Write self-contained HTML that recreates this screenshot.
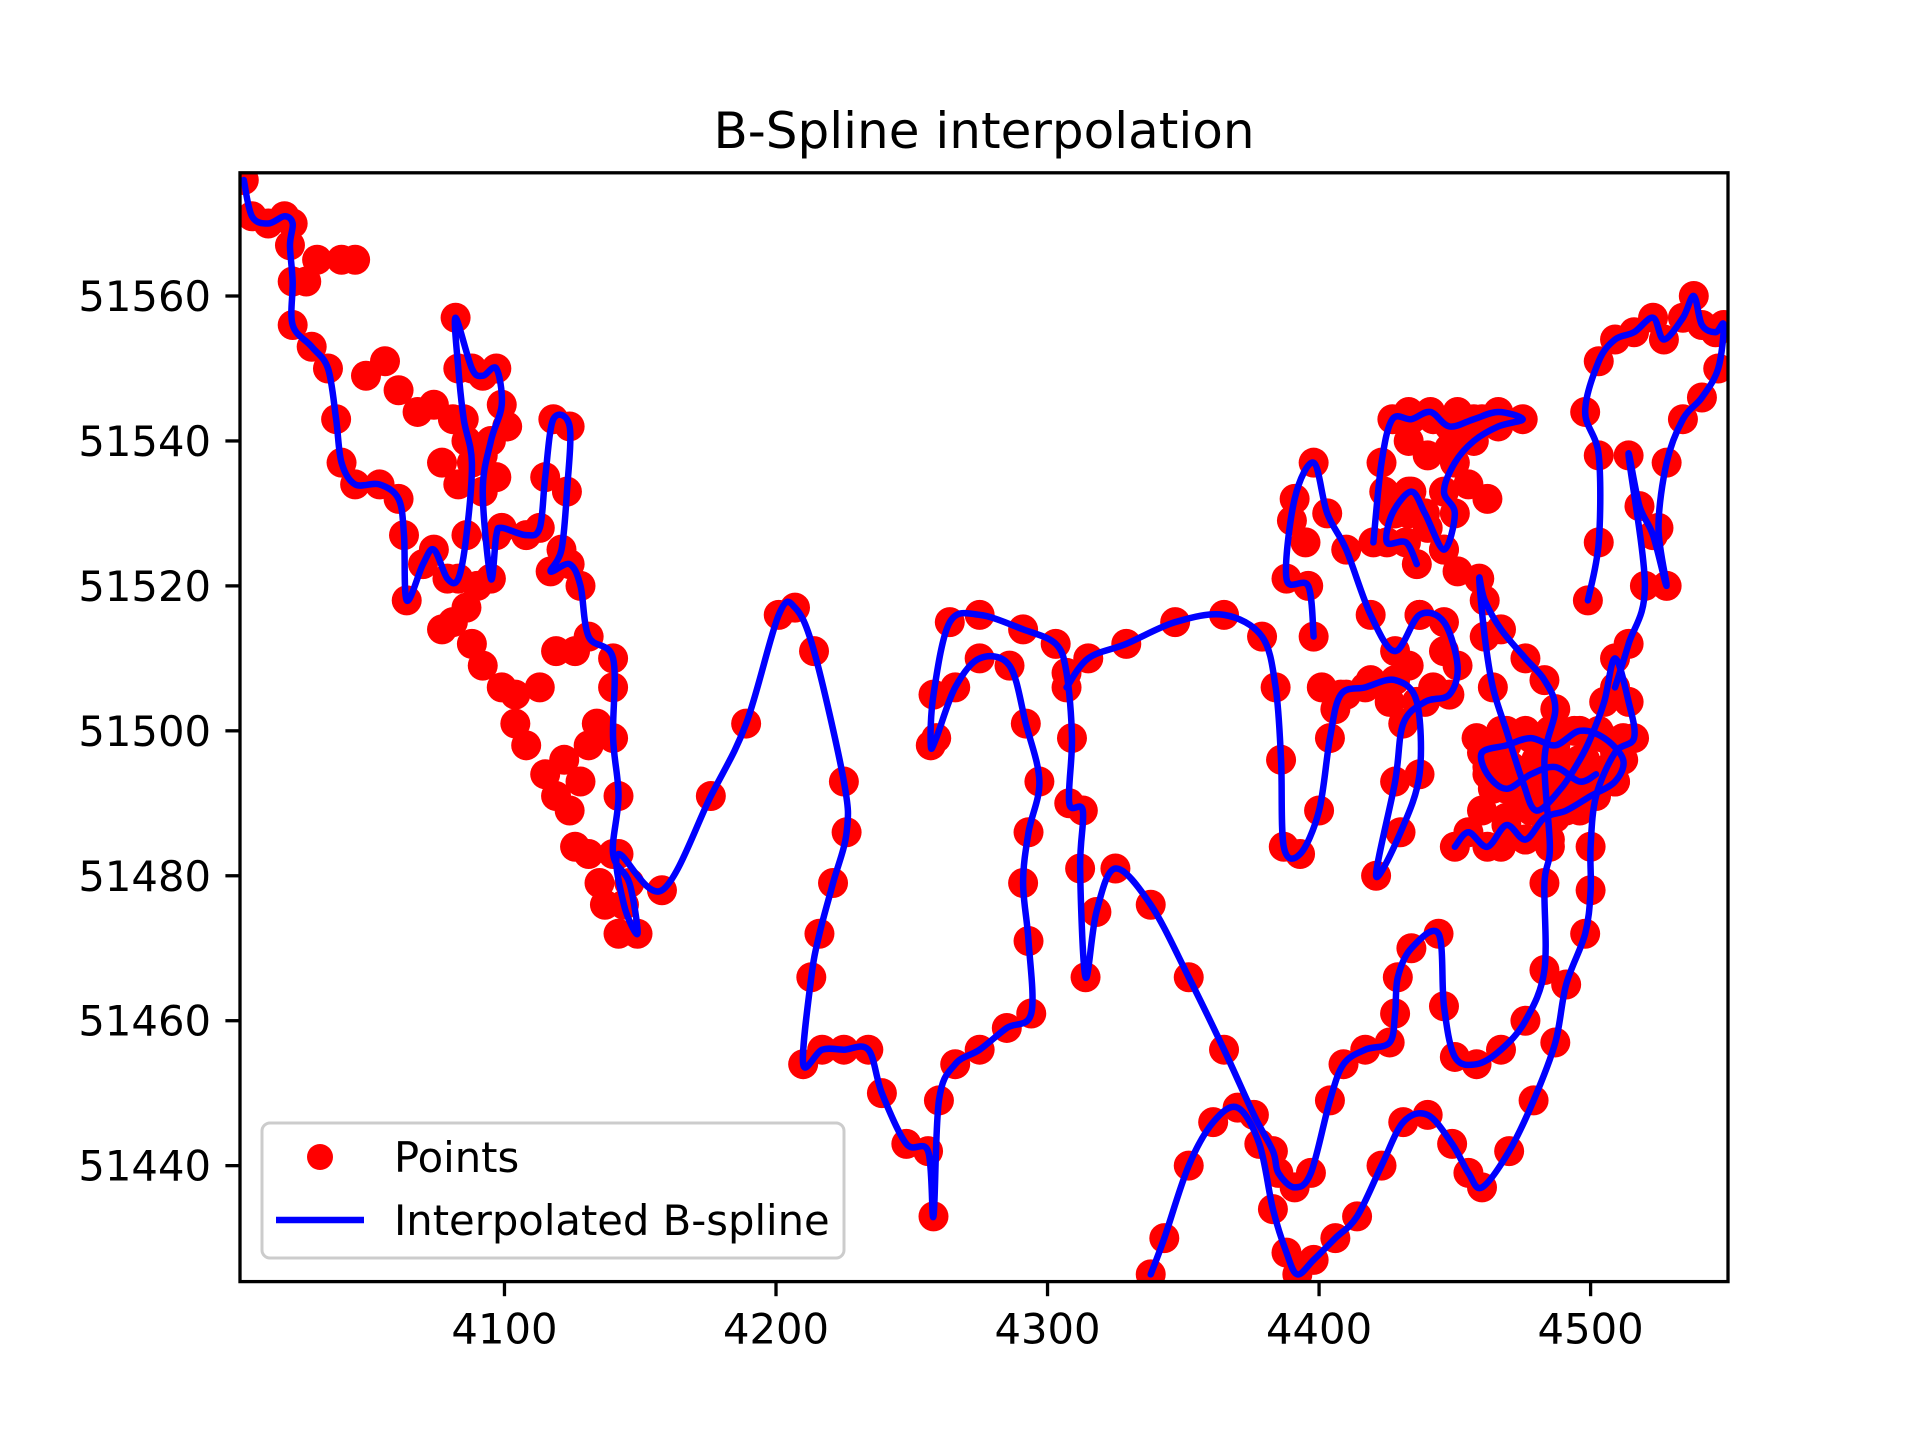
<!DOCTYPE html>
<html><head><meta charset="utf-8">
<style>
html,body{margin:0;padding:0;background:#fff;}
svg{display:block;font-family:"DejaVu Sans","Liberation Sans",sans-serif;}
</style></head>
<body>
<svg id="chart" width="1920" height="1440" viewBox="0 0 1920 1440" xmlns="http://www.w3.org/2000/svg">
<defs><clipPath id="axclip"><rect x="240" y="172.8" width="1488" height="1108.8"/></clipPath></defs>
<rect x="0" y="0" width="1920" height="1440" fill="#fff"/>
<text x="984" y="148" font-size="50" text-anchor="middle">B-Spline interpolation</text>
<g id="marks" clip-path="url(#axclip)"></g>
<g id="axes"></g>
<g id="legend">
  <rect x="262" y="1123" width="582" height="135" rx="8" fill="#fff" fill-opacity="0.8" stroke="#cccccc" stroke-width="3"/>
  <circle cx="320" cy="1157" r="13" fill="#ff0000"/>
  <text x="394" y="1172" font-size="41.7">Points</text>
  <line x1="276" y1="1220" x2="364" y2="1220" stroke="#0000ff" stroke-width="6.5"/>
  <text x="394" y="1235" font-size="41.7">Interpolated B-spline</text>
</g>
</svg>
<script>
const xTicks = [4100, 4200, 4300, 4400, 4500];
const yTicks = [51440, 51460, 51480, 51500, 51520, 51540, 51560];
const seg1X = [4004,4007,4013,4019,4022,4021,4022,4022,4029,4035,4038,4040,4045,4054,4061,4063,4064,4070,4074,4079,4083,4086,4088,4085,4083,4082,4088,4092,4097,4099,4095,4092,4095,4097,4099,4108,4113,4115,4118,4124,4123,4121,4117,4124,4128,4131,4140,4140,4142,4140,4146,4149,4144,4142,4158,4176,4189,4201,4207,4214,4225,4226,4221,4216,4213,4210,4217,4225,4234,4239,4248,4256,4258,4260,4266,4275,4285,4294,4293,4291,4293,4297,4292,4286,4275,4266,4259,4257,4258,4264,4275,4291,4303,4307,4309,4308,4313,4312,4314,4318,4325,4338,4352,4365,4376,4383,4385,4391,4397,4404,4409,4417,4426,4428,4429,4434,4444,4446,4450,4458,4467,4476,4483,4483,4485,4483,4487,4483,4476,4467,4461,4459,4461,4464,4469,4475,4480,4489,4496,4500,4505,4509,4514,4516,4509,4502,4500,4500,4498,4491,4487,4479,4470,4460,4455,4449,4440,4431,4423,4414,4406,4398,4392,4388,4383,4378,4370,4361,4352,4343,4338];
const seg1Y = [51576,51571,51570,51571,51570,51567,51562,51556,51553,51550,51543,51537,51534,51534,51532,51527,51518,51523,51525,51521,51521,51527,51537,51543,51550,51557,51550,51549,51550,51545,51540,51533,51521,51527,51528,51527,51528,51535,51543,51542,51533,51525,51522,51523,51520,51513,51510,51499,51491,51483,51479,51472,51476,51483,51478,51491,51501,51516,51517,51511,51493,51486,51479,51472,51466,51454,51456,51456,51456,51450,51443,51442,51433,51449,51454,51456,51459,51461,51471,51479,51486,51493,51501,51509,51510,51506,51499,51498,51505,51515,51516,51514,51512,51508,51499,51490,51489,51481,51466,51475,51481,51476,51466,51456,51447,51442,51439,51437,51439,51449,51454,51456,51457,51461,51466,51470,51472,51462,51455,51454,51456,51460,51467,51479,51484,51496,51503,51507,51510,51514,51518,51521,51513,51506,51500,51493,51489,51492,51496,51499,51504,51510,51504,51499,51497,51491,51484,51478,51472,51465,51457,51449,51442,51437,51439,51443,51447,51446,51440,51433,51430,51427,51425,51428,51434,51443,51448,51446,51440,51430,51425];
const seg2X = [4307,4315,4329,4347,4365,4379,4384,4386,4387,4393,4400,4404,4408,4417,4428,4436,4437,4430,4421,4428,4431,4439,4448,4451,4446,4437,4428,4419,4410,4403,4398,4391,4388,4396,4398];
const seg2Y = [51506,51510,51512,51515,51516,51513,51506,51496,51484,51483,51489,51499,51505,51506,51507,51504,51494,51486,51480,51493,51501,51504,51505,51509,51515,51516,51511,51516,51525,51530,51537,51532,51521,51520,51513];
const seg3X = [4420,4423,4427,4434,4441,4448,4457,4466,4475,4466,4457,4450,4446,4450,4446,4439,4434,4427,4425,4432,4436];
const seg3Y = [51526,51537,51543,51543,51544,51542,51543,51544,51543,51542,51540,51537,51533,51530,51525,51530,51533,51530,51526,51526,51523];
const seg4X = [4450,4455,4462,4469,4476,4483,4491,4500,4509,4512,4505,4496,4487,4478,4469,4460,4462,4469,4478,4487,4496,4502];
const seg4Y = [51484,51486,51484,51487,51485,51488,51489,51491,51493,51496,51499,51500,51498,51499,51498,51497,51494,51492,51494,51495,51493,51494];
const seg5X = [4499,4503,4503,4498,4503,4509,4516,4523,4527,4534,4538,4541,4546,4549,4547,4541,4534,4528,4525,4528,4523,4518,4514,4520,4514,4509];
const seg5Y = [51518,51526,51538,51544,51551,51554,51555,51557,51554,51557,51560,51556,51555,51556,51550,51546,51543,51537,51528,51520,51527,51531,51538,51520,51512,51506];
const extraX = [4081,4088,4092,4099,4104,4108,4115,4119,4124,4126,4131,4135,4137,4142,4104,4113,4122,4128,4131,4134,4140,4119,4126,4086,4077,4090,
  4458,4467,4476,4485,4494,4503,4512,4462,4471,4480,4489,4498,4507,4464,4473,4482,4491,4500,4509,4460,4469,4478,4487,4496,4467,4476,4485,
  4433,4442,4451,4460,4433,4440,4448,4455,4462,4433,4440,4446,4451,4424,4428,
  4049,4056,4061,4068,4074,4081,4086,4092,4097,4101,4077,4083,4027,4031,4045,4040,
  4390,4395,4401,4410,4419,4426,4433,4442,4406,4437,4446,4433];
const extraY = [51515,51512,51509,51506,51501,51498,51494,51491,51489,51484,51483,51479,51476,51472,51505,51506,51496,51493,51498,51501,51506,51511,51511,51517,51514,51520,
  51499,51500,51500,51500,51500,51500,51499,51495,51495,51496,51495,51496,51495,51492,51491,51492,51491,51492,51493,51489,51488,51489,51488,51489,51484,51485,51485,
  51544,51543,51544,51543,51540,51538,51539,51534,51532,51533,51528,51525,51522,51533,51530,
  51549,51551,51547,51544,51545,51543,51540,51538,51535,51542,51537,51534,51562,51565,51565,51565,
  51529,51526,51506,51505,51507,51504,51509,51506,51503,51516,51511,51530];

const X0 = 240, X1 = 1728, Y0 = 172.8, Y1 = 1281.6;
const xMin = 4002.6, xMax = 4550.6, yMin = 51424, yMax = 51577;
function sx(v){ return X0 + (v - xMin) / (xMax - xMin) * (X1 - X0); }
function sy(v){ return Y1 - (v - yMin) / (yMax - yMin) * (Y1 - Y0); }

const NS = 'http://www.w3.org/2000/svg';
const marks = document.getElementById('marks');
const axes = document.getElementById('axes');
function mk(tag, attrs, parent){
  const e = document.createElementNS(NS, tag);
  for (const k in attrs) e.setAttribute(k, attrs[k]);
  parent.appendChild(e);
  return e;
}
const segs = [[seg1X,seg1Y],[seg2X,seg2Y],[seg3X,seg3Y],[seg4X,seg4Y],[seg5X,seg5Y]];

const ptsG = mk('g', {}, marks);


segs.concat([[extraX, extraY]]).forEach(function(s){
  for (let i = 0; i < s[0].length; i++){
    const c = mk('circle', {cx: sx(s[0][i]), cy: sy(s[1][i]), r: 15, fill: '#ff0000'}, ptsG);
    
    
  }
});

segs.forEach(function(s, si){
  const P = s[0].map(function(v, i){ return [sx(v), sy(s[1][i])]; });
  let d = 'M' + P[0][0] + ',' + P[0][1];
  for (let i = 0; i < P.length - 1; i++){
    const p0 = P[Math.max(0, i-1)], p1 = P[i], p2 = P[i+1], p3 = P[Math.min(P.length-1, i+2)];
    const c1 = [p1[0] + (p2[0]-p0[0])/6, p1[1] + (p2[1]-p0[1])/6];
    const c2 = [p2[0] - (p3[0]-p1[0])/6, p2[1] - (p3[1]-p1[1])/6];
    d += ' C' + c1[0] + ',' + c1[1] + ' ' + c2[0] + ',' + c2[1] + ' ' + p2[0] + ',' + p2[1];
  }
  const path = mk('path', {d: d, fill: 'none', stroke: '#0000ff', 'stroke-width': 6.5, 'stroke-linejoin': 'round', 'stroke-linecap': 'round'}, marks);
  
  
});

const frame = mk('rect', {x: X0, y: Y0, width: X1-X0, height: Y1-Y0, fill: 'none', stroke: '#000', 'stroke-width': 3.3}, axes);



xTicks.forEach(function(t){
  const x = sx(t);
  const l = mk('line', {x1: x, y1: Y1, x2: x, y2: Y1 + 14.6, stroke: '#000', 'stroke-width': 3.3}, axes);
  
  
  const tx = mk('text', {x: x, y: Y1 + 62, 'font-size': 41.7, 'text-anchor': 'middle'}, axes);
  tx.textContent = String(t);
  
  
});
yTicks.forEach(function(t){
  const y = sy(t);
  const l = mk('line', {x1: X0 - 14.6, y1: y, x2: X0, y2: y, stroke: '#000', 'stroke-width': 3.3}, axes);
  
  
  const tx = mk('text', {x: X0 - 29, y: y + 15, 'font-size': 41.7, 'text-anchor': 'end'}, axes);
  tx.textContent = String(t);
  
  
});
</script>
</body></html>
